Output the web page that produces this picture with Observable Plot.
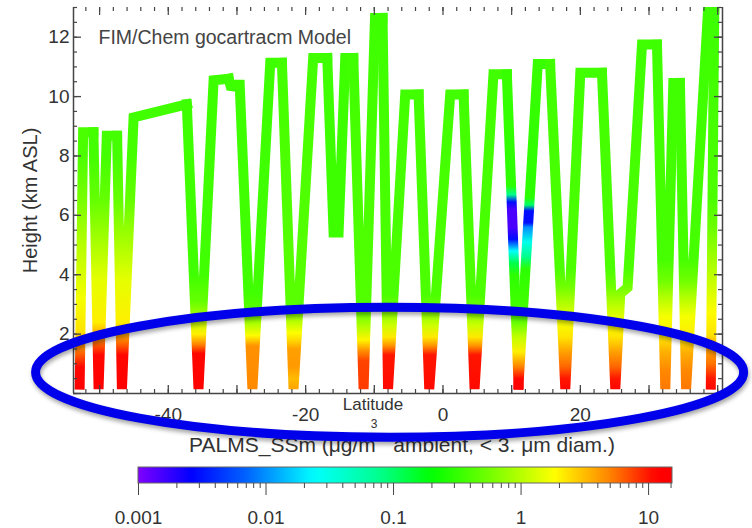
<!DOCTYPE html>
<html>
<head>
<meta charset="utf-8">
<script src="https://cdn.jsdelivr.net/npm/d3@7"></script>
<script src="https://cdn.jsdelivr.net/npm/@observablehq/plot@0.6"></script>
<style>
  body { margin: 0; background: #fff; }
  #wrap { position: relative; width: 752px; height: 528px; overflow: hidden; background: #fff; }
  #wrap svg { position: absolute; left: 0; }
</style>
</head>
<body>
<div id="wrap"></div>
<script>
// ---------------- data ----------------
const titleText = "FIM/Chem gocartracm Model";
const xLabelText = "Latitude";
const yLabelText = "Height (km ASL)";
const cbarLabelText = "PALMS_SSm (μg/m   ambient, < 3. μm diam.)";
const cbarLabelSup = "3";

const xDomain = [-53.8, 40.7];
const yDomain = [0, 13];
const xMajorTicks = [-50, -40, -30, -20, -10, 0, 10, 20, 30, 40];
const xMinorTicks = d3.range(-52, 41, 2);
const xTickLabels = [-40, -20, 0, 20];
const yMajorTicks = [0, 2, 4, 6, 8, 10, 12];
const yMinorTicks = d3.range(0, 13.01, 0.5);
const yTickLabels = [2, 4, 6, 8, 10, 12];

// flight track vertices (latitude, altitude km) and colour-piece id
const trackLat = [
  -52.9, -52.4,
  -50.9, -50.15, -48.95,
  -47.45, -46.75, -45.05,
  -37.3, -35.6, -33.4,
  -31.2, -30.8, -30.4, -29.6, -27.75, -25.15,
  -23.45, -21.76, -18.9,
  -16.85, -15.93, -15.2, -14.23,
  -13.06, -11.56, -9.9,
  -8.8, -8.0, -5.5,
  -3.55, -2.0, 1.05,
  3.0, 4.6, 7.35,
  9.3,
  11.0, 13.8,
  15.6, 17.81, 20.0,
  23.15, 25.09, 25.82, 26.88, 28.98,
  31.16, 32.37, 33.54,
  34.5, 35.4, 38.6,
  39.5, 39.0
];
const trackAlt = [
  0.3, 8.8,
  8.8, 0.15, 8.68,
  8.68, 0.15, 9.3,
  9.74, 0.15, 10.55,
  10.6, 10.25, 10.4, 10.4, 0.15, 11.14,
  11.14, 0.15, 11.3,
  11.3, 5.42, 5.42, 11.3,
  11.3, 0.15, 12.65,
  12.65, 0.15, 10.07,
  10.07, 0.15, 10.07,
  10.07, 0.15, 10.75,
  10.75,
  0.3, 11.1,
  11.1, 0.15, 10.8,
  10.8, 0.15, 3.36, 3.57, 11.75,
  11.75, 0.15, 10.46,
  10.46, 0.15, 12.93,
  12.93, 0.3
];
const trackPiece = [
  0, 0,
  1, 1, 1,
  2, 2, 2,
  3, 3, 3,
  4, 4, 4, 4, 4, 4,
  5, 5, 5,
  6, 6, 6, 6,
  7, 7, 7,
  8, 8, 8,
  9, 9, 9,
  10, 10, 10,
  11,
  12, 12,
  13, 13, 13,
  14, 14, 14, 14, 14,
  15, 15, 15,
  16, 16, 16,
  17, 17
];

// concentration profiles along altitude: [altitude km, concentration µg/m3]
const profFirst   = [[0,12],[0.9,11],[1.5,5],[2.1,2.3],[3.2,1.7],[5,1.0],[6.5,0.6],[8,0.4],[13,0.35]];
const profYellow  = [[0,12],[1.3,11],[1.8,5],[2.4,2.1],[3.8,1.5],[5.2,0.85],[6.5,0.5],[8,0.37],[13,0.35]];
const profStd     = [[0,12],[1.35,11],[1.65,5],[2.0,2.1],[2.5,1.0],[3.1,0.5],[4,0.36],[13,0.35]];
const profOrange  = [[0,4.8],[1.6,4.5],[1.8,2.8],[1.95,1.9],[2.3,1.0],[2.8,0.45],[3.4,0.36],[13,0.35]];
const profOrange2 = [[0,4.2],[0.5,3.2],[0.9,4.2],[1.5,4.0],[1.8,2.5],[2.05,1.8],[2.5,0.9],[3.0,0.45],[13,0.35]];
const profGreen   = [[0,0.35],[13,0.35]];
const profRedOr   = [[0,8],[1.1,7.5],[1.45,4.5],[1.8,2.0],[2.3,0.9],[2.9,0.42],[13,0.35]];
const profRed     = [[0,11],[1.3,10],[1.6,4.5],[1.9,2.2],[2.3,1.2],[2.8,0.6],[3.3,0.4],[13,0.35]];
const profAnomDn  = [[0,12],[0.5,11],[0.9,5],[1.4,2.1],[1.9,1.1],[2.4,0.5],[3,0.36],[4.0,0.3],[4.4,0.12],[4.8,0.025],[5.2,0.003],[5.6,0.0015],[6.2,0.0015],[6.45,0.003],[6.7,0.08],[7.0,0.3],[13,0.35]];
const profAnomUp  = [[0,12],[0.5,11],[0.9,5],[1.4,2.1],[1.9,1.1],[2.4,0.5],[3,0.36],[4.2,0.3],[4.6,0.08],[5.1,0.03],[5.6,0.01],[5.75,0.003],[6.15,0.003],[6.35,0.1],[6.6,0.3],[13,0.35]];
const profB       = [[0,12],[0.5,10],[0.9,6],[1.4,4],[1.9,2.3],[2.4,1.7],[3.0,1.0],[3.6,0.55],[4.2,0.4],[13,0.35]];
const profC       = [[0,5.5],[0.8,4.8],[1.4,3.5],[2.0,2.1],[2.6,1.7],[3.2,1.0],[3.8,0.55],[4.5,0.38],[13,0.35]];
const profLast    = [[0,12],[0.5,10],[1.0,5.5],[1.5,4],[2.0,2.3],[2.7,1.9],[3.5,1.3],[4.5,0.85],[5.5,0.55],[6.5,0.4],[13,0.35]];
const pieceProfile = [profFirst, profYellow, profYellow, profStd, profOrange, profOrange2, profGreen,
  profRedOr, profRed, profRed, profRed, profAnomDn, profAnomUp, profB, profB, profC, profC, profLast];

// colour bar
const cbarDomain = [0.001, 15.4];
const cbarTicks = [0.001, 0.01, 0.1, 1, 10];
const cbarMinorTicks = [0.002,0.003,0.004,0.005,0.006,0.007,0.008,0.009,
  0.02,0.03,0.04,0.05,0.06,0.07,0.08,0.09, 0.2,0.3,0.4,0.5,0.6,0.7,0.8,0.9,
  2,3,4,5,6,7,8,9, 15];
const rampT = [0, 0.1, 0.2, 0.33, 0.45, 0.55, 0.67, 0.78, 0.88, 0.97, 1];
const rampColor = ["#8000ff","#0000ff","#0060ff","#00ffff","#00ff90","#00ff00","#80ff00","#ffff00","#ff8800","#ff0000","#ff0000"];

// annotation ellipse (data coordinates)
const ellipseCenter = [-7.7, 0.7];
const ellipseRadii = [51.55, 2.19];

// ---------------- drawing ----------------
const font = "Liberation Sans, Arial, Helvetica, sans-serif";
const axisColor = "#454545";
const W = 752, H = 528, mL = 73, mR = 30, mT = 7, mB = 135;
const frameW = W - mL - mR, frameH = H - mT - mB;

const ramp = d3.scaleLinear().domain(rampT).range(rampColor).interpolate(d3.interpolateRgb).clamp(true);
const cscale = Plot.scale({color: {type: "log", domain: cbarDomain, interpolate: t => ramp(t)}});

const rows = [];
for (let i = 0; i < trackLat.length; i++) {
  if (i > 0 && trackPiece[i] !== trackPiece[i - 1]) {
    rows.push({lat: trackLat[i], alt: trackAlt[i], piece: trackPiece[i - 1]});
  }
  rows.push({lat: trackLat[i], alt: trackAlt[i], piece: trackPiece[i]});
}

function ellipseMark(index, scales) {
  const cx = scales.x(ellipseCenter[0]), cy = scales.y(ellipseCenter[1]);
  const rx = Math.abs(scales.x(ellipseCenter[0] + ellipseRadii[0]) - cx);
  const ry = Math.abs(scales.y(ellipseCenter[1] + ellipseRadii[1]) - cy);
  const el = document.createElementNS("http://www.w3.org/2000/svg", "ellipse");
  el.setAttribute("cx", cx); el.setAttribute("cy", cy);
  el.setAttribute("rx", rx); el.setAttribute("ry", ry);
  el.setAttribute("fill", "none");
  el.setAttribute("stroke", "#0000eb");
  el.setAttribute("stroke-width", 9);
  el.setAttribute("style", "filter: drop-shadow(1px 3px 2px rgba(0,0,0,0.35))");
  return el;
}

const chart = Plot.plot({
  width: W, height: H,
  marginLeft: mL, marginRight: mR, marginTop: mT, marginBottom: mB,
  style: {fontFamily: font, fontSize: "19px", color: "#333", background: "#fff"},
  x: {domain: xDomain},
  y: {domain: yDomain},
  color: {type: "identity"},
  marks: [
    Plot.line(rows, {x: "lat", y: "alt", z: "piece", stroke: d => `url(#trk${d.piece})`,
      strokeWidth: 10, strokeLinejoin: "miter", strokeMiterlimit: 1.5, strokeLinecap: "square", clip: true}),
    // axis lines
    Plot.ruleY([yDomain[0]], {stroke: axisColor, strokeWidth: 1.5}),
    Plot.ruleX(xDomain, {stroke: axisColor, strokeWidth: 1.5}),
    // inward ticks: bottom, top, left, right
    Plot.tickX(xMajorTicks, {x: d => d, insetTop: frameH - 8, stroke: axisColor, strokeWidth: 1.3}),
    Plot.tickX(xMinorTicks, {x: d => d, insetTop: frameH - 4, stroke: axisColor, strokeWidth: 1.2}),
    Plot.tickX(xMajorTicks, {x: d => d, insetBottom: frameH - 8, stroke: axisColor, strokeWidth: 1.2}),
    Plot.tickX(xMinorTicks, {x: d => d, insetBottom: frameH - 4, stroke: axisColor, strokeWidth: 1.2}),
    Plot.tickY(yMajorTicks, {y: d => d, insetRight: frameW - 8, stroke: axisColor, strokeWidth: 1.3}),
    Plot.tickY(yMinorTicks, {y: d => d, insetRight: frameW - 4, stroke: axisColor, strokeWidth: 1.2}),
    Plot.tickY(yMajorTicks, {y: d => d, insetLeft: frameW - 8, stroke: axisColor, strokeWidth: 1.3}),
    Plot.tickY(yMinorTicks, {y: d => d, insetLeft: frameW - 4, stroke: axisColor, strokeWidth: 1.2}),
    Plot.axisX({ticks: xTickLabels, tickSize: 0, tickPadding: 14, tickFormat: d => String(d), fontSize: 19, label: null}),
    Plot.axisY({ticks: yTickLabels, tickSize: 0, tickPadding: 4, tickFormat: d => String(d), fontSize: 19, label: null}),
    Plot.text([titleText], {text: d => d, frameAnchor: "top-left", textAnchor: "start", dx: 25, dy: 23, fontSize: 19.5, fill: "#444"}),
    Plot.text([yLabelText], {text: d => d, frameAnchor: "left", textAnchor: "middle", rotate: -90, dx: -43, dy: 0, fontSize: 20, fill: "#333"}),
    Plot.text([xLabelText], {text: d => d, frameAnchor: "bottom", dx: -25, dy: 16, fontSize: 17, fill: "#333"}),
    Plot.text([cbarLabelText], {text: d => d, frameAnchor: "bottom", dx: 4, dy: 58, fontSize: 21, fill: "#333"}),
    Plot.text([cbarLabelSup], {text: d => d, frameAnchor: "bottom", dx: -24, dy: 34, fontSize: 12, fill: "#333"}),
    ellipseMark
  ]
});

// vertical gradients for each coloured piece of the track
{
  const ys = chart.scale("y");
  const defs = d3.select(chart).insert("defs", ":first-child");
  pieceProfile.forEach((prof, i) => {
    const g = defs.append("linearGradient").attr("id", `trk${i}`)
      .attr("gradientUnits", "userSpaceOnUse")
      .attr("x1", 0).attr("x2", 0)
      .attr("y1", ys.apply(yDomain[0])).attr("y2", ys.apply(yDomain[1]));
    prof.forEach(([a, c]) => g.append("stop")
      .attr("offset", (a - yDomain[0]) / (yDomain[1] - yDomain[0]))
      .attr("stop-color", cscale.apply(c)));
  });
}
chart.style.top = "0px";
document.getElementById("wrap").appendChild(chart);

// colour bar
const cbar = Plot.plot({
  width: W, height: 88,
  marginLeft: 138, marginRight: 80, marginTop: 27, marginBottom: 45,
  style: {fontFamily: font, fontSize: "19px", color: "#333", background: "none"},
  x: {type: "log", domain: cbarDomain},
  y: {domain: [0, 1], axis: null},
  marks: [
    Plot.rect([cbarDomain], {x1: d => d[0], x2: d => d[1], y1: 0, y2: 1, fill: "url(#cbarGrad)", stroke: "#666", strokeWidth: 1}),
    Plot.axisX({ticks: cbarMinorTicks, tickSize: 5, tickFormat: () => "", stroke: axisColor, label: null}),
    Plot.axisX({ticks: cbarTicks, tickSize: 12, tickPadding: 15, tickFormat: d => String(d), fontSize: 19, stroke: axisColor, label: null})
  ]
});
{
  const defs = d3.select(cbar).insert("defs", ":first-child");
  const g = defs.append("linearGradient").attr("id", "cbarGrad").attr("x1", 0).attr("x2", 1).attr("y1", 0).attr("y2", 0);
  const l0 = Math.log10(cbarDomain[0]), l1 = Math.log10(cbarDomain[1]);
  d3.range(0, 1.0001, 0.02).forEach(f => {
    g.append("stop").attr("offset", f).attr("stop-color", cscale.apply(Math.pow(10, l0 + f * (l1 - l0))));
  });
}
cbar.style.top = "440px";
document.getElementById("wrap").appendChild(cbar);
</script>
</body>
</html>
